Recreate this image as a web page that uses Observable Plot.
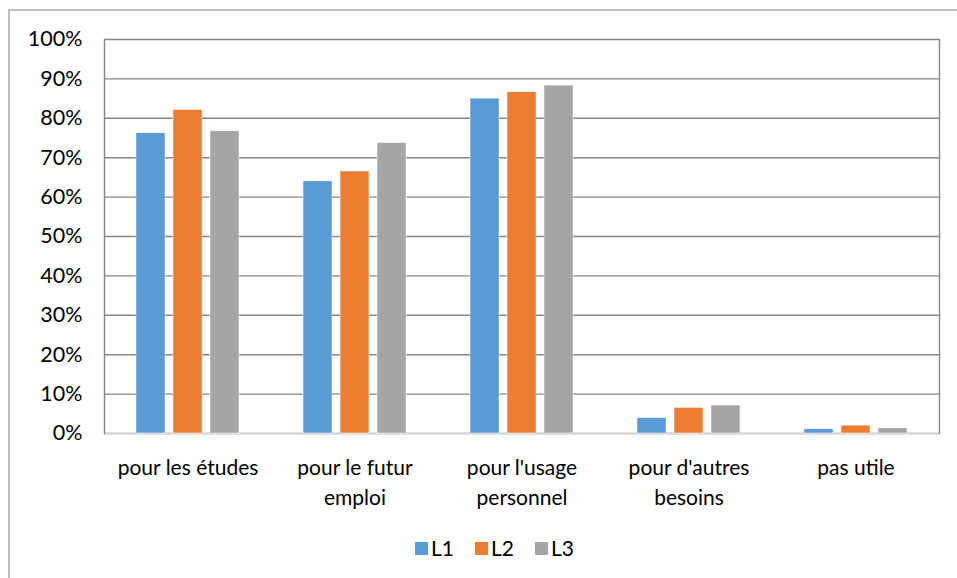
<!DOCTYPE html>
<html>
<head>
<meta charset="utf-8">
<script src="https://cdn.jsdelivr.net/npm/d3@7"></script>
<script src="https://cdn.jsdelivr.net/npm/@observablehq/plot@0.6"></script>
<style>
  html, body { margin: 0; padding: 0; background: #fff; width: 957px; height: 578px; overflow: hidden; }
  #wrap { position: relative; width: 957px; height: 578px; font-family: Lato, sans-serif; }
  #border { position: absolute; left: 8px; top: 9px; width: 960px; height: 580px; border-left: 2px solid #bfbfbf; border-top: 2px solid #bfbfbf; box-sizing: border-box; }
  #chart { position: absolute; left: 0; top: 0; }
  #legend { position: absolute; left: 16px; top: 534px; width: 957px; display: flex; justify-content: center; align-items: center; font-family: Lato, sans-serif; font-size: 21px; color: #000; line-height: 28px; }
  .item { display: flex; align-items: center; margin: 0 10.5px; }
  .sw { width: 13px; height: 13px; margin-right: 3px; }
</style>
</head>
<body>
<div id="wrap">
  <div id="border"></div>
  <div id="chart"></div>
  <div id="legend"></div>
</div>
<script>
const categories = ["pour les études", "pour le futur emploi", "pour l'usage personnel", "pour d'autres besoins", "pas utile"];
const categoryLabels = ["pour les études", "pour le futur\nemploi", "pour l'usage\npersonnel", "pour d'autres\nbesoins", "pas utile"];
const series = ["L1", "L2", "L3"];
const colors = ["#5B9BD5", "#ED7D31", "#A5A5A5"];
const valuesL1 = [0.762, 0.640, 0.850, 0.039, 0.011];
const valuesL2 = [0.821, 0.665, 0.866, 0.065, 0.020];
const valuesL3 = [0.767, 0.737, 0.883, 0.071, 0.013];
const yTicks = [0, 0.1, 0.2, 0.3, 0.4, 0.5, 0.6, 0.7, 0.8, 0.9, 1.0];

const valuesBySeries = [valuesL1, valuesL2, valuesL3];
const data = [];
categories.forEach((c, i) => {
  series.forEach((s, j) => data.push({category: c, series: s, value: valuesBySeries[j][i]}));
});
const labelOf = new Map(categories.map((c, i) => [c, categoryLabels[i]]));
const firstCat = categories[0];
const lastCat = categories[categories.length - 1];

const chart = Plot.plot({
  width: 957,
  height: 520,
  marginLeft: 102,
  marginRight: 16,
  marginTop: 39,
  marginBottom: 87,
  style: {fontFamily: "Lato, sans-serif", fontSize: "21px", color: "#000", background: "transparent"},
  fx: {domain: categories, padding: 0, axis: null, label: null},
  x: {domain: series, paddingInner: 0.22, paddingOuter: 0.86, axis: null, label: null},
  y: {domain: [0, 1], axis: null, label: null},
  color: {domain: series, range: colors},
  marks: [
    Plot.gridY(yTicks, {stroke: "#868686", strokeOpacity: 1, strokeWidth: 1.4}),
    Plot.ruleY([0], {stroke: "#d9d9d9", strokeWidth: 1.6}),
    Plot.barY(data, {fx: "category", x: "series", y: "value", fill: "series", stroke: "white", strokeWidth: 0.5}),
    Plot.frame({anchor: "left", fx: () => firstCat, stroke: "#868686", strokeWidth: 1.4}),
    Plot.frame({anchor: "right", fx: () => lastCat, stroke: "#868686", strokeWidth: 1.4}),
    Plot.axisY({anchor: "left", ticks: yTicks, tickFormat: d3.format(".0%"), tickSize: 0, tickPadding: 22, fill: "#000", fontSize: 21.5}),
    Plot.axisFx({anchor: "bottom", tickSize: 0, tickPadding: 20, tickFormat: d => labelOf.get(d), lineHeight: 1.43, fill: "#000", fontSize: 21})
  ]
});
document.getElementById("chart").appendChild(chart);

const colorScale = chart.scale("color");
const legend = document.getElementById("legend");
series.forEach(s => {
  const item = document.createElement("div");
  item.className = "item";
  const sw = document.createElement("span");
  sw.className = "sw";
  sw.style.background = colorScale.apply(s);
  const label = document.createElement("span");
  label.textContent = s;
  item.appendChild(sw);
  item.appendChild(label);
  legend.appendChild(item);
});
</script>
</body>
</html>
